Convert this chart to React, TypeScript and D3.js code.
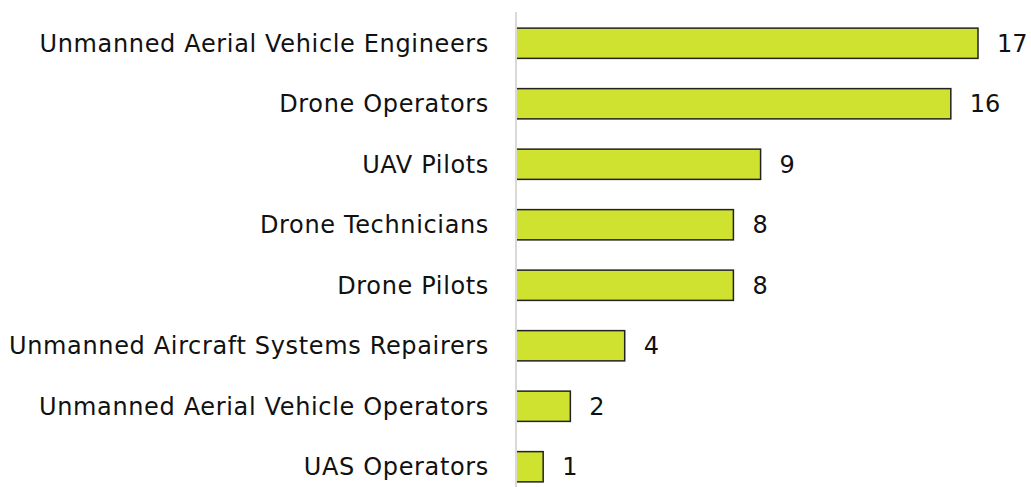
import React from "react";
import * as d3 from "d3";

const categories: string[] = [
  "Unmanned Aerial Vehicle Engineers",
  "Drone Operators",
  "UAV Pilots",
  "Drone Technicians",
  "Drone Pilots",
  "Unmanned Aircraft Systems Repairers",
  "Unmanned Aerial Vehicle Operators",
  "UAS Operators",
];
const values: number[] = [17, 16, 9, 8, 8, 4, 2, 1];

const W = 1031;
const H = 487;
const axisX = 516;
const FONT = "'DejaVu Sans', sans-serif";

export default function App() {
  const x = d3.scaleLinear().domain([0, 17]).range([axisX, 978]);
  const y = d3
    .scaleBand<string>()
    .domain(categories)
    .range([13, 497])
    .paddingInner(0.5)
    .paddingOuter(0.25);
  return (
    <svg
      width={W}
      height={H}
      style={{ position: "absolute", left: 0, top: 0, background: "#fff" }}
    >
      {categories.map((c, i) => {
        const yy = y(c)!;
        const bw = y.bandwidth();
        return (
          <g key={c}>
            <rect
              x={x(0)}
              y={yy}
              width={x(values[i]) - x(0)}
              height={bw}
              fill="#cfe22f"
              stroke="#222"
              strokeWidth={1.5}
            />
            <text
              x={489}
              y={yy + bw / 2}
              dy="0.35em"
              textAnchor="end"
              fontFamily={FONT}
              fontSize={24}
              letterSpacing={0.65}
              fill="#111"
            >
              {c}
            </text>
            <text
              x={x(values[i]) + 19}
              y={yy + bw / 2}
              dy="0.35em"
              fontFamily={FONT}
              fontSize={24}
              fill="#111"
            >
              {values[i]}
            </text>
          </g>
        );
      })}
      <line x1={axisX} x2={axisX} y1={12} y2={H} stroke="#d9d9d9" strokeWidth={2} />
    </svg>
  );
}
